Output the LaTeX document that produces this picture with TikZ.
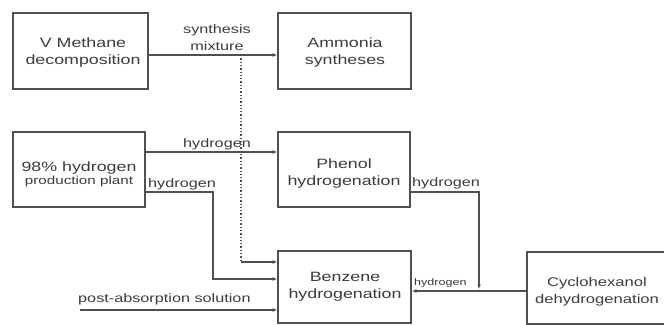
\documentclass[tikz,border=0pt]{standalone}
\usepackage{fontspec}
\setmainfont[FakeStretch=1.32]{Liberation Sans}
\usetikzlibrary{arrows.meta}
\definecolor{ln}{HTML}{505050}
\definecolor{tx}{HTML}{3C3C3C}
\begin{document}
\begin{tikzpicture}[x=1pt,y=-1pt,
  box/.style={draw=ln,line width=1.8pt,rectangle,inner sep=0pt,text=tx,align=center,
    font=\fontsize{13.5}{16}\selectfont},
  btxt/.style={text=tx,inner sep=0pt,font=\fontsize{13.5}{17}\selectfont,align=center},
  lbl/.style={text=tx,inner sep=0pt,font=\fontsize{12.3}{17}\selectfont,align=center},
  conn/.style={draw=ln,line width=1.3pt},
  arr/.style={conn,-{Latex[length=4.5pt,width=4pt]}}]
\useasboundingbox (0,0) rectangle (664,324);
\clip (0,0) rectangle (664,324);
\fill[white] (0,0) rectangle (664,324);
% boxes
\node[box,minimum width=135pt,minimum height=76pt] (meth) at (80.5,51) {};
\node[btxt] at (83,53) {V Methane\\decomposition};
\node[box,minimum width=133pt,minimum height=76pt] (amm) at (344.5,51) {};
\node[btxt] at (345,53) {Ammonia\\syntheses};
\node[box,minimum width=132pt,minimum height=75pt] (h2) at (79,169.5) {};
\node[text=tx,align=center,inner sep=0pt] at (79,174) {{\fontsize{13.5}{16}\selectfont 98\% hydrogen}\\[1pt]{\fontsize{11.5}{14}\selectfont production plant}};
\node[box,minimum width=132pt,minimum height=75pt] (phen) at (344,169.5) {};
\node[btxt] at (344,174) {Phenol\\hydrogenation};
\node[box,minimum width=133pt,minimum height=72pt] (benz) at (344.5,287) {};
\node[btxt] at (345,287) {Benzene\\hydrogenation};
\node[box,minimum width=142pt,minimum height=72pt] (cyc) at (598,288) {};
\node[btxt,font=\fontsize{12.6}{17}\selectfont] at (597,292) {Cyclohexanol\\dehydrogenation};
% connectors
\coordinate (m1) at (meth.east |- 0,55);
\coordinate (a1) at (amm.west |- 0,55);
\draw[arr] (m1) -- (a1);
\node[lbl] at (217,38) {synthesis\\mixture};
\coordinate (d1) at (241,55);
\coordinate (d2) at (241,262);
\coordinate (b1) at (benz.west |- 0,262);
\draw[draw=ln,line width=1.3pt,dotted] (d1) -- (d2);
\draw[arr] (d2) -- (b1);
\coordinate (h1) at (h2.east |- 0,152);
\coordinate (p1) at (phen.west |- 0,152);
\draw[arr] (h1) -- (p1);
\node[lbl] at (217,144) {hydrogen};
\coordinate (h3) at (h2.east |- 0,192);
\coordinate (c1) at (213,192);
\coordinate (c2) at (213,279);
\coordinate (b2) at (benz.west |- 0,279);
\draw[arr] (h3) -- (c1) -- (c2) -- (b2);
\node[lbl,anchor=west] at (148,184) {hydrogen};
\coordinate (s0) at (80,310);
\coordinate (b3) at (benz.west |- 0,310);
\draw[arr] (s0) -- (b3);
\node[lbl,anchor=south west] at (78,305) {post-absorption solution};
\coordinate (p2) at (phen.east |- 0,192);
\coordinate (c3) at (479,192);
\coordinate (c4) at (479,289);
\draw[arr] (p2) -- (c3) -- (c4);
\node[lbl,anchor=west] at (412,183) {hydrogen};
\coordinate (y1) at (cyc.west |- 0,291);
\coordinate (b4) at (benz.east |- 0,291);
\draw[arr] (y1) -- (b4);
\node[lbl,anchor=west,font=\fontsize{9.5}{12}\selectfont] at (414,283) {hydrogen};
\end{tikzpicture}
\end{document}
